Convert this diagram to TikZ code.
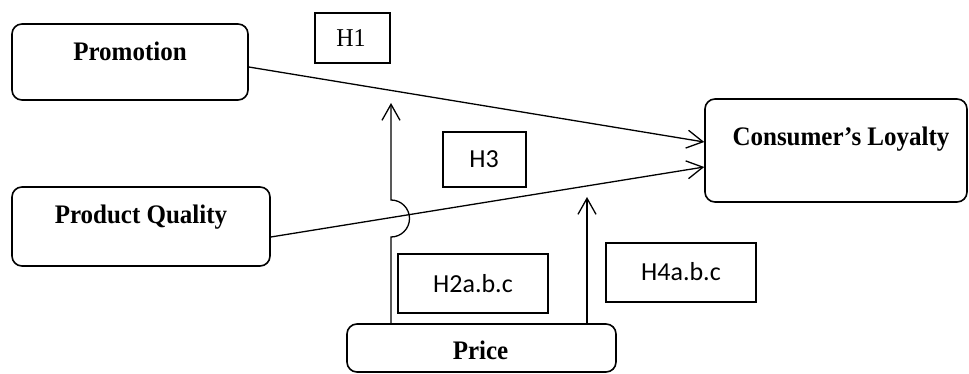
\documentclass[tikz,border=0pt]{standalone}
\usepackage{fontspec}
\setmainfont{Liberation Serif}
\newfontfamily\calib{Carlito}
\usetikzlibrary{arrows.meta}
\newcommand{\tallt}[1]{\scalebox{1}[1.07]{#1}}
\begin{document}
\begin{tikzpicture}[x=1pt,y=-1pt,
  rbox/.style={draw, line width=1.6pt, rounded corners=10pt, inner sep=0pt},
  hbox/.style={draw, line width=1.3pt, inner sep=0pt},
  lbl/.style={anchor=base, font=\fontsize{25}{28}\selectfont\bfseries, inner sep=0pt},
  hser/.style={anchor=base, font=\fontsize{24}{28}\selectfont, inner sep=0pt},
  hsan/.style={anchor=base, font=\fontsize{26}{30}\selectfont\calib, inner sep=0pt},
  conn/.style={line width=1.3pt, -{Straight Barb[length=16pt,width=18pt,line width=1.3pt]}}
]
\useasboundingbox (0,0) rectangle (969,374);
\fill[white] (0,0) rectangle (969,374);
% boxes
\node[rbox, minimum width=236pt, minimum height=76pt] (promo) at (130,62) {};
\node[rbox, minimum width=258pt, minimum height=79pt] (pq) at (141,226.5) {};
\node[rbox, minimum width=262pt, minimum height=103pt] (loyal) at (836,150.5) {};
\node[rbox, minimum width=269pt, minimum height=48pt] (price) at (481.5,348) {};
\node[hbox, minimum width=75pt, minimum height=50pt] (h1) at (352.5,38) {};
\node[hbox, minimum width=83pt, minimum height=55pt] (h3) at (484.5,159.5) {};
\node[hbox, minimum width=150pt, minimum height=59pt] (h2) at (473,283.5) {};
\node[hbox, minimum width=150pt, minimum height=59pt] (h4) at (681,272.5) {};
% texts
\node[lbl] (tpromo) at (130,61) {\tallt{Promotion}};
\node[lbl] (tpq) at (141,224) {\tallt{Product Quality}};
\node[lbl] (tloyal) at (841,146) {\tallt{Consumer’s Loyalty}};
\node[lbl] (tprice) at (480.5,359) {\tallt{Price}};
\node[hser] (th1) at (351,47) {\tallt{H1}};
\node[hsan] (th3) at (484,168) {H3};
\node[hsan] (th2) at (473,292) {H2a.b.c};
\node[hsan] (th4) at (681,280) {H4a.b.c};
% connectors
\draw[conn] ([yshift=-5pt]promo.east) -- ([yshift=8.5pt]loyal.west);
\draw[conn] ([yshift=-10.5pt]pq.east) -- ([yshift=-16.5pt]loyal.west);
\coordinate (t1) at (391,103);
\coordinate (t2) at (587,197);
\draw[conn] (t1 |- price.north) -- (391,237) arc[start angle=-90, end angle=90, radius=18.5pt] -- (t1);
\draw[conn] (t2 |- price.north) -- (t2);
\end{tikzpicture}
\end{document}
